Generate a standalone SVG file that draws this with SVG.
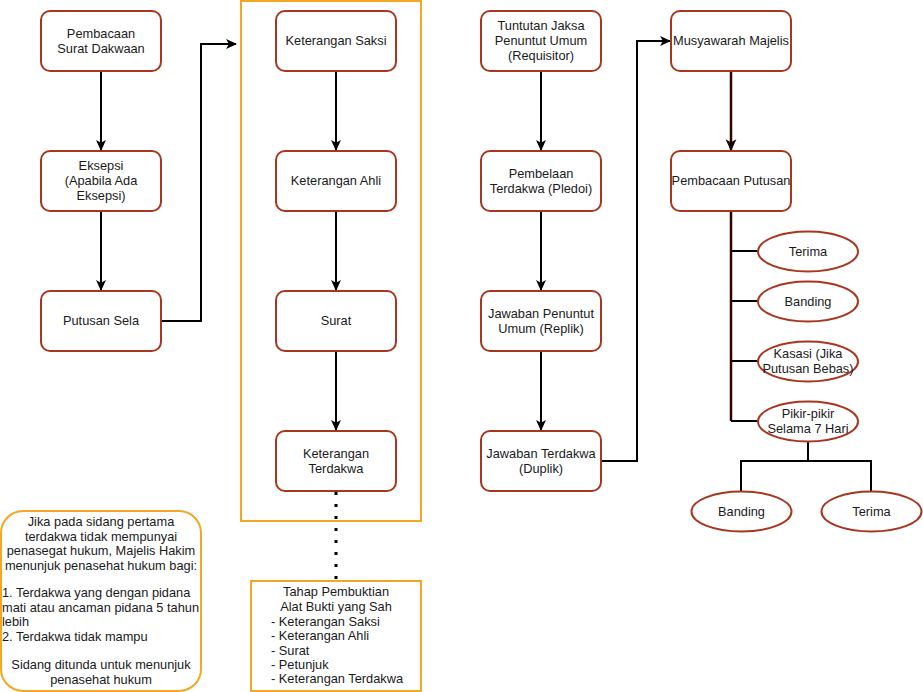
<svg xmlns="http://www.w3.org/2000/svg" width="923" height="692" viewBox="0 0 923 692">
<defs>
<marker id="arr" markerWidth="11" markerHeight="11" viewBox="0 0 10 10" refX="9" refY="5" orient="auto" markerUnits="userSpaceOnUse">
<path d="M0,0.5 L10,5 L0,9.5 L2.5,5 Z" fill="#000"/>
</marker>
<marker id="arrd" markerWidth="12" markerHeight="12" viewBox="0 0 10 10" refX="9" refY="5" orient="auto" markerUnits="userSpaceOnUse">
<path d="M0,0.5 L10,5 L0,9.5 L2.5,5 Z" fill="#1a0000"/>
</marker>
<style>
.box{fill:#fff;stroke:#a8361f;stroke-width:2}
.ell{fill:#fff;stroke:#a8361f;stroke-width:2}
.grp{fill:none;stroke:#f5a623;stroke-width:2}
.t{font-family:"Liberation Sans",Arial,sans-serif;font-size:12.8px;fill:#1a1a1a;text-anchor:middle}
.tl{font-family:"Liberation Sans",Arial,sans-serif;font-size:12.8px;fill:#1a1a1a;text-anchor:start}
.c{fill:none;stroke:#000;stroke-width:2}
.cd{fill:none;stroke:#330000;stroke-width:2.5}
</style>
</defs>
<rect id="bukti-group" class="grp" x="241" y="1" width="180" height="520"/>
<g id="connectors">
<path class="c" d="M101,71 L101,150" marker-end="url(#arr)"/>
<path class="c" d="M101,211 L101,290" marker-end="url(#arr)"/>
<path class="c" d="M161,321 L201,321 L201,44 L236,44" marker-end="url(#arr)"/>
<path class="c" d="M336,71 L336,150" marker-end="url(#arr)"/>
<path class="c" d="M336,211 L336,290" marker-end="url(#arr)"/>
<path class="c" d="M336,351 L336,430" marker-end="url(#arr)"/>
<path d="M336,492 L336,581" fill="none" stroke="#000" stroke-width="3" stroke-dasharray="3 9"/>
<path class="c" d="M541,71 L541,150" marker-end="url(#arr)"/>
<path class="c" d="M541,211 L541,290" marker-end="url(#arr)"/>
<path class="c" d="M541,351 L541,430" marker-end="url(#arr)"/>
<path class="c" d="M601,461 L637,461 L637,41 L670,41" marker-end="url(#arr)"/>
<path class="cd" d="M731,71 L731,150" marker-end="url(#arrd)"/>
<path class="cd" d="M731,211 L731,421"/>
<path class="c" d="M731,251 L758,251 M731,301 L758,301 M731,361 L758,361 M731,421 L758,421"/>
<path class="c" d="M808,441 L808,461 M741,491 L741,461 L871,461 L871,491"/>
</g>
<g id="n-pembacaan-dakwaan"><rect class="box" x="41" y="11" width="120" height="60" rx="9"/><text class="t" x="101" y="38">Pembacaan</text><text class="t" x="101" y="53">Surat Dakwaan</text></g>
<g id="n-eksepsi"><rect class="box" x="41" y="151" width="120" height="60" rx="9"/><text class="t" x="101" y="170">Eksepsi</text><text class="t" x="101" y="185">(Apabila Ada</text><text class="t" x="101" y="200">Eksepsi)</text></g>
<g id="n-putusan-sela"><rect class="box" x="41" y="291" width="120" height="60" rx="9"/><text class="t" x="101" y="325">Putusan Sela</text></g>
<g id="n-saksi"><rect class="box" x="276" y="11" width="120" height="60" rx="9"/><text class="t" x="336" y="45">Keterangan Saksi</text></g>
<g id="n-ahli"><rect class="box" x="276" y="151" width="120" height="60" rx="9"/><text class="t" x="336" y="185">Keterangan Ahli</text></g>
<g id="n-surat"><rect class="box" x="276" y="291" width="120" height="60" rx="9"/><text class="t" x="336" y="325">Surat</text></g>
<g id="n-terdakwa"><rect class="box" x="276" y="431" width="120" height="60" rx="9"/><text class="t" x="336" y="458">Keterangan</text><text class="t" x="336" y="473">Terdakwa</text></g>
<g id="n-tahap"><rect x="251" y="581" width="170" height="110" fill="#fff" stroke="#f5a623" stroke-width="2"/>
<text class="t" x="336" y="596">Tahap Pembuktian</text>
<text class="t" x="336" y="611">Alat Bukti yang Sah</text>
<text class="tl" x="271" y="626">- Keterangan Saksi</text>
<text class="tl" x="271" y="640">- Keterangan Ahli</text>
<text class="tl" x="271" y="655">- Surat</text>
<text class="tl" x="271" y="669">- Petunjuk</text>
<text class="tl" x="271" y="683">- Keterangan Terdakwa</text></g>
<g id="n-note"><rect x="1" y="511" width="200" height="180" rx="22" fill="#fff" stroke="#f5a623" stroke-width="2"/>
<text class="t" x="101" y="526">Jika pada sidang pertama</text>
<text class="t" x="101" y="540.5">terdakwa tidak mempunyai</text>
<text class="t" x="101" y="555">penasegat hukum, Majelis Hakim</text>
<text class="t" x="101" y="569.5">menunjuk penasehat hukum bagi:</text>
<text class="tl" x="2" y="597">1. Terdakwa yang dengan pidana</text>
<text class="tl" x="2" y="611.5">mati atau ancaman pidana 5 tahun</text>
<text class="tl" x="2" y="626">lebih</text>
<text class="tl" x="2" y="640.5">2. Terdakwa tidak mampu</text>
<text class="t" x="101" y="669">Sidang ditunda untuk menunjuk</text>
<text class="t" x="101" y="684">penasehat hukum</text></g>
<g id="n-tuntutan"><rect class="box" x="481" y="11" width="120" height="60" rx="9"/><text class="t" x="541" y="30">Tuntutan Jaksa</text><text class="t" x="541" y="45">Penuntut Umum</text><text class="t" x="541" y="60">(Requisitor)</text></g>
<g id="n-pledoi"><rect class="box" x="481" y="151" width="120" height="60" rx="9"/><text class="t" x="541" y="178">Pembelaan</text><text class="t" x="541" y="193">Terdakwa (Pledoi)</text></g>
<g id="n-replik"><rect class="box" x="481" y="291" width="120" height="60" rx="9"/><text class="t" x="541" y="318">Jawaban Penuntut</text><text class="t" x="541" y="333">Umum (Replik)</text></g>
<g id="n-duplik"><rect class="box" x="481" y="431" width="120" height="60" rx="9"/><text class="t" x="541" y="458">Jawaban Terdakwa</text><text class="t" x="541" y="473">(Duplik)</text></g>
<g id="n-musyawarah"><rect class="box" x="671" y="11" width="120" height="60" rx="9"/><text class="t" x="731" y="45">Musyawarah Majelis</text></g>
<g id="n-putusan"><rect class="box" x="671" y="151" width="120" height="60" rx="9"/><text class="t" x="731" y="185">Pembacaan Putusan</text></g>
<g id="n-terima1"><ellipse class="ell" cx="808" cy="251.5" rx="50" ry="20"/><text class="t" x="808" y="256">Terima</text></g>
<g id="n-banding1"><ellipse class="ell" cx="808" cy="301.5" rx="50" ry="20"/><text class="t" x="808" y="306">Banding</text></g>
<g id="n-kasasi"><ellipse class="ell" cx="808" cy="361.5" rx="50" ry="20"/><text class="t" x="808" y="358">Kasasi (Jika</text><text class="t" x="808" y="373">Putusan Bebas)</text></g>
<g id="n-pikir"><ellipse class="ell" cx="808" cy="421.5" rx="50" ry="20"/><text class="t" x="808" y="418">Pikir-pikir</text><text class="t" x="808" y="433">Selama 7 Hari</text></g>
<g id="n-banding2"><ellipse class="ell" cx="741.5" cy="511.5" rx="50" ry="20"/><text class="t" x="741.5" y="516">Banding</text></g>
<g id="n-terima2"><ellipse class="ell" cx="871.5" cy="511.5" rx="50" ry="20"/><text class="t" x="871.5" y="516">Terima</text></g>
</svg>
